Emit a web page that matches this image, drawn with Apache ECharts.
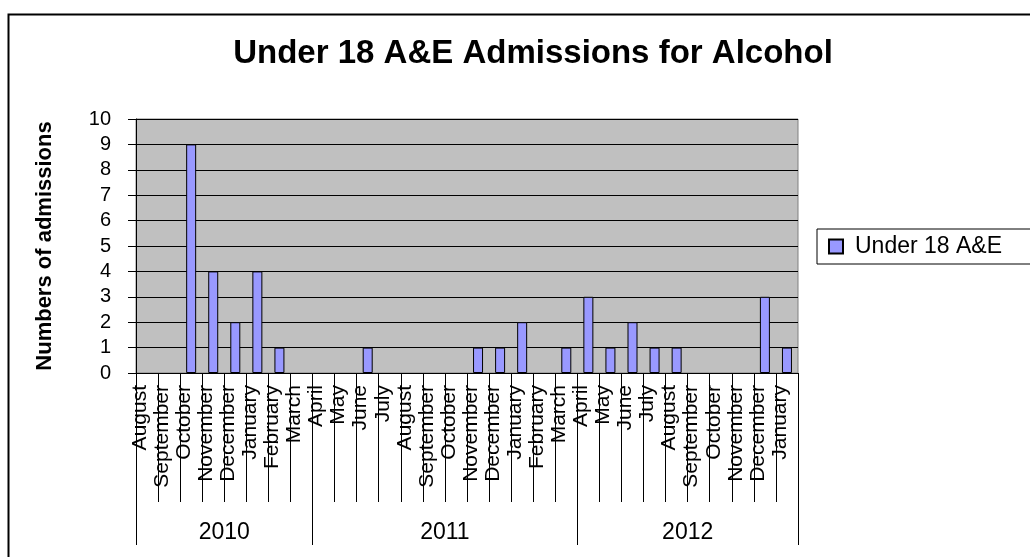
<!DOCTYPE html>
<html>
<head>
<meta charset="utf-8">
<script src="https://cdn.jsdelivr.net/npm/echarts@6/dist/echarts.min.js"></script>
<style>
html,body{margin:0;padding:0;background:#fff;}
#chart{width:1030px;height:557px;}
</style>
</head>
<body>
<div id="chart"></div>
<script>
// ---- data ----
var months = ['August','September','October','November','December','January','February','March',
  'April','May','June','July','August','September','October','November','December','January','February','March',
  'April','May','June','July','August','September','October','November','December','January'];
var admissions = [0,0,9,4,2,4,1,0,
  0,0,1,0,0,0,0,1,1,2,0,1,
  3,1,2,1,1,0,0,0,3,1];
var years = ['2010','2011','2012'];
var yearSpans = [8,12,10];
var yTicks = [0,1,2,3,4,5,6,7,8,9,10];
var seriesName = 'Under 18 A&E';
var titleText = 'Under 18 A&E Admissions for Alcohol';
var yAxisTitle = 'Numbers of admissions';

// derived: year group starts and centres (in category units)
var yearStarts = [], yearCentres = {};
(function(){
  var s = 0;
  for (var i = 0; i < years.length; i++) {
    yearStarts.push(s);
    yearCentres[s + yearSpans[i] / 2] = years[i];
    s += yearSpans[i];
  }
})();
// zero counts draw no bar (as in the original)
var barData = admissions.map(function (v) { return v === 0 ? '-' : v; });

var FONT = "'Liberation Sans', Arial, sans-serif";
var chart = echarts.init(document.getElementById('chart'), null, {renderer:'canvas'});
chart.setOption({
  animation: false,
  backgroundColor: '#ffffff',
  title: {
    text: titleText,
    left: 528, top: 32, textAlign: 'center',
    textStyle: {fontFamily: FONT, fontSize: 33, fontWeight: 'bold', color: '#000'}
  },
  graphic: [{
    type: 'rect', left: 6, top: 12, silent: true,
    shape: {width: 1100, height: 600},
    style: {fill: 'none', stroke: '#000', lineWidth: 2}
  }],
  legend: {
    data: [seriesName],
    left: 817, top: 229,
    orient: 'vertical',
    icon: 'rect',
    itemWidth: 14, itemHeight: 14,
    padding: [6, 60, 6, 11],
    borderColor: '#000', borderWidth: 1,
    backgroundColor: '#fff',
    textStyle: {fontFamily: FONT, fontSize: 23, color: '#000', lineHeight: 22, padding: [0,0,0,7]}
  },
  grid: {
    left: 136, top: 119, right: 232, bottom: 184,
    show: true, backgroundColor: '#C0C0C0', borderColor: '#808080', borderWidth: 1
  },
  xAxis: [{
    type: 'category', data: months, position: 'bottom',
    axisLine: {show: true, lineStyle: {color: '#000', width: 1}},
    axisTick: {show: true, interval: 0, length: 129, lineStyle: {color: '#000', width: 1}},
    axisLabel: {interval: 0, rotate: 90, margin: 12, verticalAlign: 'bottom', lineHeight: 14,
      fontFamily: FONT, fontSize: 21, color: '#000'},
    splitLine: {show: false}
  }, {
    type: 'category', data: months, position: 'bottom', offset: 129,
    axisLine: {show: false},
    axisTick: {show: true, length: 43, lineStyle: {color: '#000', width: 1},
      interval: function (idx) { return yearStarts.indexOf(idx) >= 0; }},
    axisLabel: {show: false},
    splitLine: {show: false}
  }, {
    type: 'value', min: 0, max: months.length, interval: 1, position: 'bottom', offset: 129,
    axisLine: {show: false}, axisTick: {show: false}, splitLine: {show: false},
    axisLabel: {margin: 19, fontFamily: FONT, fontSize: 23, color: '#000',
      formatter: function (v) { return yearCentres[v] || ''; }}
  }],
  yAxis: {
    type: 'value', min: yTicks[0], max: yTicks[yTicks.length - 1], interval: 1,
    name: yAxisTitle, nameLocation: 'middle', nameGap: 80,
    nameTextStyle: {fontFamily: FONT, fontSize: 22, fontWeight: 'bold', color: '#000'},
    axisLine: {show: true, lineStyle: {color: '#000', width: 1}},
    axisTick: {show: true, length: 8, lineStyle: {color: '#000', width: 1}},
    axisLabel: {margin: 25, fontFamily: FONT, fontSize: 20, color: '#000'},
    splitLine: {show: true, lineStyle: {color: '#000', width: 1}}
  },
  series: [{
    name: seriesName, type: 'bar', data: barData,
    xAxisIndex: 0, yAxisIndex: 0,
    barWidth: 10,
    itemStyle: {color: '#9999FF', borderColor: '#000', borderWidth: 1}
  }]
});
</script>
</body>
</html>
